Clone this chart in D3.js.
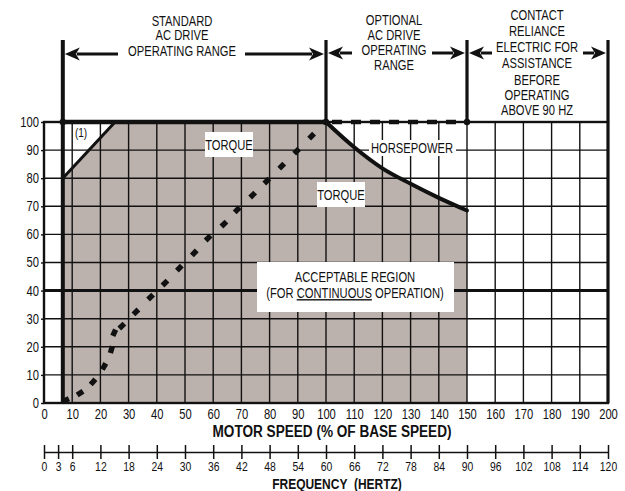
<!DOCTYPE html>
<html><head><meta charset="utf-8">
<script src="https://cdn.jsdelivr.net/npm/d3@7"></script>
<style>
body{margin:0;background:#fff;}
text{font-family:'Liberation Sans',Arial,sans-serif;fill:#111;}
</style></head><body>
<svg id="c" width="625" height="491"></svg>
<script>
// ---- data ----
const speedTicks = d3.range(0, 201, 10);
const freqTicks = [0, 3, 6, 12, 18, 24, 30, 36, 42, 48, 54, 60, 66, 72, 78, 84, 90, 96, 102, 108, 114, 120];
const pctTicks = d3.range(0, 101, 10);
const minSpeed = 6.67;           // 4 Hz lower limit
const region1Line = [[6.67, 80], [25.2, 100]];
const constTorqueTop = [[6.67, 100], [100, 100]];
const optionalTop = [[100, 100], [150, 100]];
const torqueCurve = [[100, 100], [110, 91], [120, 83.5], [130, 78], [140, 73], [150, 68.5]];
const hpDots = [[7.7, 1], [12.8, 3.5], [17.4, 7.5], [21.3, 13], [23.9, 19], [24.9, 25], [27.6, 27.4], [32.6, 32.4],
  [37.8, 37.7], [42.9, 42.7], [48, 48], [53.3, 53.4], [58.2, 58.7], [63.8, 63.7], [68.5, 68.7], [74, 74],
  [79, 79], [84.3, 84.3], [89.6, 89.6], [94.9, 95]];
const rangeTexts = [
  ["STANDARD", "AC DRIVE", "OPERATING RANGE"],
  ["OPTIONAL", "AC DRIVE", "OPERATING", "RANGE"],
  ["CONTACT", "RELIANCE", "ELECTRIC FOR", "ASSISTANCE", "BEFORE", "OPERATING", "ABOVE 90 HZ"]
];

const svg = d3.select("#c");
const x = d3.scaleLinear().domain([0, 200]).range([44, 608]);
const y = d3.scaleLinear().domain([0, 100]).range([403, 122]);
const fx = d3.scaleLinear().domain([0, 120]).range([44, 608]);
const gray = "#bcb2ad";
const SX = 0.8;

function narrow(sel) {
  sel.each(function () {
    const t = d3.select(this);
    const tx = +t.attr("x") || 0, ty = +t.attr("y") || 0;
    t.attr("transform", `translate(${tx},${ty}) scale(${SX},1)`).attr("x", 0).attr("y", 0);
  });
}

// gray acceptable region
const tInterp = d3.scaleLinear().domain(torqueCurve.map(p => p[0])).range(torqueCurve.map(p => p[1]));
const regionPts = [[minSpeed, 0], ...region1Line, [100, 100]]
  .concat(d3.range(101, 150.01, 1).map(v => [v, tInterp(v)]))
  .concat([[150, 0]]);
svg.append("path").attr("d", d3.line().x(d => x(d[0])).y(d => y(d[1]))(regionPts)).attr("fill", gray);

// grid
const grid = svg.append("g").attr("stroke", "#111").attr("stroke-width", 1.4);
speedTicks.forEach(s => grid.append("line").attr("x1", x(s)).attr("x2", x(s)).attr("y1", y(0)).attr("y2", y(100)));
pctTicks.forEach(p => grid.append("line").attr("x1", x(0)).attr("x2", x(200)).attr("y1", y(p)).attr("y2", y(p))
  .attr("stroke-width", p === 40 ? 3 : 1.4));
svg.append("rect").attr("x", x(0)).attr("y", y(100)).attr("width", x(200) - x(0)).attr("height", y(0) - y(100))
  .attr("fill", "none").attr("stroke", "#111").attr("stroke-width", 2.4);

// white label boxes
function box(x0, y0, w, h) { svg.append("rect").attr("x", x0).attr("y", y0).attr("width", w).attr("height", h).attr("fill", "#fff"); }
box(205, 132, 48, 25);
box(317, 182, 48, 25);
box(369, 140, 87, 16);
box(257, 262, 197, 50);

const ln = d3.line().x(d => x(d[0])).y(d => y(d[1]));
svg.append("path").attr("d", ln(region1Line)).attr("stroke", "#111").attr("stroke-width", 3).attr("fill", "none");
svg.append("path").attr("d", ln(constTorqueTop)).attr("stroke", "#111").attr("stroke-width", 4.5).attr("fill", "none");
svg.append("path").attr("d", ln(optionalTop)).attr("stroke", "#111").attr("stroke-width", 4.5).attr("fill", "none")
  .attr("stroke-dasharray", "10,9").attr("stroke-dashoffset", -6);
svg.append("path").attr("d", d3.line().x(d => x(d[0])).y(d => y(d[1])).curve(d3.curveMonotoneX)(torqueCurve))
  .attr("stroke", "#111").attr("stroke-width", 4).attr("fill", "none").attr("stroke-linecap", "round");

// horsepower dashes
hpDots.forEach((d, i) => {
  const a = hpDots[Math.max(0, i - 1)], b = hpDots[Math.min(hpDots.length - 1, i + 1)];
  const ang = Math.atan2(y(b[1]) - y(a[1]), x(b[0]) - x(a[0])) * 180 / Math.PI;
  svg.append("rect").attr("x", -3.5).attr("y", -2.7).attr("width", 7).attr("height", 5.4).attr("fill", "#111")
    .attr("transform", `translate(${x(d[0])},${y(d[1])}) rotate(${ang})`);
});

// vertical range lines
svg.append("line").attr("x1", x(minSpeed)).attr("x2", x(minSpeed)).attr("y1", 40).attr("y2", y(0))
  .attr("stroke", "#111").attr("stroke-width", 4);
[100, 150, 200].forEach(s => svg.append("line").attr("x1", x(s)).attr("x2", x(s)).attr("y1", 40).attr("y2", y(100))
  .attr("stroke", "#111").attr("stroke-width", 3.2));
svg.append("line").attr("x1", x(200)).attr("x2", x(200)).attr("y1", y(100)).attr("y2", y(0))
  .attr("stroke", "#111").attr("stroke-width", 3);
[minSpeed, 100, 150].forEach(s => svg.append("circle").attr("cx", x(s)).attr("cy", y(100)).attr("r", 3.2).attr("fill", "#111"));

// arrows
function arrow(xFrom, xTo, yy) {
  const dir = Math.sign(xTo - xFrom), L = 15, H = 6.5;
  svg.append("line").attr("x1", xFrom).attr("x2", xTo - dir * (L - 3)).attr("y1", yy).attr("y2", yy)
    .attr("stroke", "#111").attr("stroke-width", 3);
  const back = xTo - dir * L, notch = xTo - dir * (L - 4);
  svg.append("path").attr("d", `M${xTo},${yy} L${back},${yy - H} L${notch},${yy} L${back},${yy + H} Z`).attr("fill", "#111");
}
arrow(118, x(minSpeed) + 2, 54);
arrow(245, x(100) - 2, 54);
arrow(352, x(100) + 2, 53);
arrow(432, x(150) - 2, 53);
arrow(492, x(150) + 2, 53);
arrow(583, x(200) - 2, 53);

// range texts
const tg = svg.append("g").attr("font-size", 14).attr("text-anchor", "middle");
const blockCx = [182, 394, 537];
const blockBase = [[26, 40, 56], [25, 40, 55, 70], [20, 36, 52, 68, 85, 100, 115]];
rangeTexts.forEach((lines, i) => lines.forEach((t, j) =>
  tg.append("text").attr("x", blockCx[i]).attr("y", blockBase[i][j]).text(t)));
narrow(tg.selectAll("text"));

// chart labels
const lg = svg.append("g").attr("font-size", 14).attr("text-anchor", "middle");
lg.append("text").attr("x", 81).attr("y", 137).attr("font-size", 12.5).text("(1)");
lg.append("text").attr("x", 229).attr("y", 150).text("TORQUE");
lg.append("text").attr("x", 341).attr("y", 200).text("TORQUE");
lg.append("text").attr("x", 412).attr("y", 153).text("HORSEPOWER");
lg.append("text").attr("x", 355).attr("y", 282).text("ACCEPTABLE REGION");
const t2 = lg.append("text").attr("x", 355).attr("y", 298);
t2.append("tspan").text("(FOR ");
t2.append("tspan").attr("text-decoration", "underline").text("CONTINUOUS");
t2.append("tspan").text(" OPERATION)");
narrow(lg.selectAll("text"));

// y axis
const yAxis = svg.append("g").attr("transform", `translate(${x(0)},0)`)
  .call(d3.axisLeft(y).tickValues(pctTicks).tickSize(3).tickPadding(2));
yAxis.select(".domain").remove();
yAxis.selectAll("text").attr("font-size", 14).attr("font-family", null).attr("fill", "#111")
  .attr("transform", `scale(${SX},1)`).attr("x", -5 / SX);
yAxis.selectAll("line").attr("stroke", "#111").attr("stroke-width", 1.4);

// x axis (speed)
const xAxis = svg.append("g").attr("transform", `translate(0,${y(0)})`)
  .call(d3.axisBottom(x).tickValues(speedTicks).tickSize(0).tickPadding(6));
xAxis.select(".domain").remove();
xAxis.selectAll("text").attr("font-size", 14).attr("font-family", null).attr("fill", "#111")
  .attr("transform", `scale(${SX},1)`);
const mt = svg.append("text").attr("x", 332).attr("y", 437).attr("text-anchor", "middle").attr("font-size", 17)
  .attr("font-weight", "bold").text("MOTOR SPEED (% OF BASE SPEED)");
narrow(mt);

// frequency axis
const fAxis = svg.append("g").attr("transform", `translate(0,452)`)
  .call(d3.axisBottom(fx).tickValues(freqTicks).tickSizeInner(7).tickSizeOuter(0).tickPadding(3));
fAxis.select(".domain").attr("stroke", "#111").attr("stroke-width", 1.5);
fAxis.selectAll(".tick line").attr("y1", -7).attr("y2", 7).attr("stroke", "#111").attr("stroke-width", 1.5);
fAxis.selectAll("text").attr("font-size", 13).attr("font-family", null).attr("fill", "#111")
  .attr("transform", `scale(${SX},1)`);
const ft = svg.append("text").attr("x", 337).attr("y", 489).attr("text-anchor", "middle").attr("font-size", 15)
  .attr("font-weight", "bold").attr("xml:space", "preserve").text("FREQUENCY  (HERTZ)");
narrow(ft);
</script></body></html>
